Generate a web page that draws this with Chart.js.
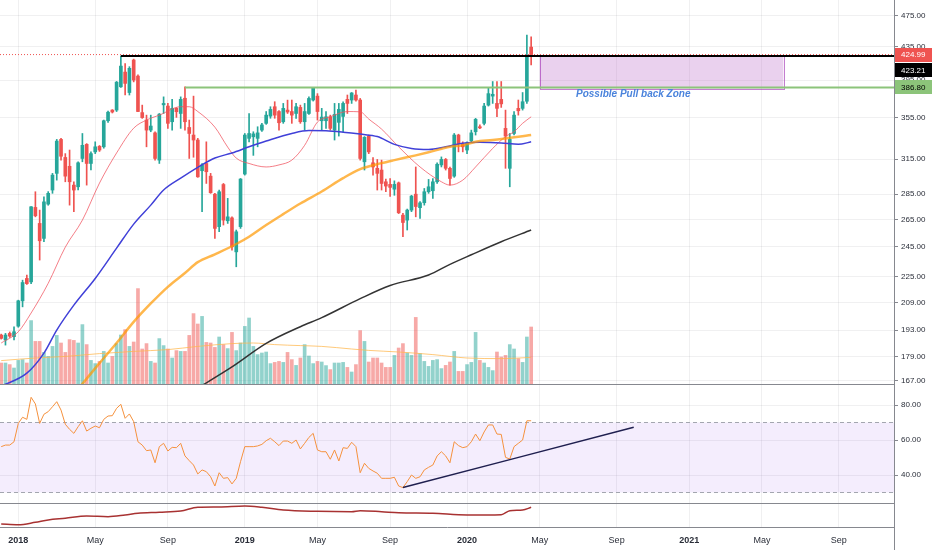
<!DOCTYPE html>
<html>
<head>
<meta charset="utf-8">
<script src="https://cdn.jsdelivr.net/npm/chart.js@4.4.1/dist/chart.umd.min.js"></script>
<style>
  html, body { margin: 0; padding: 0; background: #fff; }
  #wrap { position: relative; width: 932px; height: 550px; overflow: hidden; }
  canvas { position: absolute; left: 0; }
  .sep { position: absolute; left: 0; width: 894px; height: 1px; background: #86888f; }
  .edge { position: absolute; left: 894px; top: 0; width: 1px; height: 550px; background: #86888f; }
</style>
</head>
<body>
<div id="wrap">
  <canvas id="priceChart" width="932" height="384" style="top:0"></canvas>
  <canvas id="rsiChart" width="932" height="118" style="top:385px"></canvas>
  <canvas id="lowerChart" width="932" height="46" style="top:504px"></canvas>
  <div class="sep" style="top:384px"></div>
  <div class="sep" style="top:503px"></div>
  <div class="edge"></div>
</div>
<script>
// ---- data: weekly candles, week index 0 = first week of 2018 ----
const firstWeek = -4;
const opens = [
  190.3, 187.6, 191.2, 189.4, 195.2, 209.9, 223.8, 221.6, 274.3, 262.0,
  251.0, 276.9, 288.3, 302.4, 333.3, 316.5, 308.6, 292.4, 291.0, 315.6,
  328.6, 311.1, 321.6, 326.8, 326.3, 351.6, 362.5, 362.5, 387.5, 404.2,
  381.2, 418.4, 399.6, 359.9, 352.3, 342.3, 339.6, 314.1, 368.0, 366.7,
  350.6, 364.3, 359.0, 375.0, 344.9, 337.5, 332.7, 304.7, 311.1, 300.0,
  284.9, 259.6, 292.9, 264.0, 266.2, 241.5, 259.6, 301.8, 334.3, 335.8,
  334.3, 342.3, 349.0, 356.3, 366.0, 361.0, 350.6, 362.5, 361.0, 359.0,
  365.3, 350.6, 359.0, 373.1, 377.3, 351.6, 351.6, 355.6, 342.3, 350.0,
  356.0, 373.8, 373.1, 378.5, 373.1, 312.6, 336.5, 311.7, 306.8, 305.3,
  295.2, 293.0, 289.0, 294.3, 268.3, 264.5, 272.2, 284.9, 274.1, 278.0,
  286.9, 287.7, 295.2, 309.8, 314.7, 306.8, 300.0, 337.5, 328.6, 323.3,
  332.0, 340.7, 345.6, 349.0, 367.7, 377.3, 369.5, 373.8, 344.0, 306.8,
  339.0, 364.3, 364.3, 371.8, 434.2
];
const highs = [
  190.8, 191.2, 192.0, 194.8, 210.3, 222.7, 226.0, 275.0, 286.9, 272.2,
  282.8, 287.0, 302.4, 333.3, 334.3, 320.0, 323.3, 295.2, 312.6, 339.0,
  329.3, 321.6, 331.0, 327.5, 352.3, 361.5, 363.0, 393.5, 423.2, 414.3,
  410.5, 419.5, 401.0, 367.7, 357.3, 357.3, 340.5, 359.0, 376.5, 369.5,
  373.8, 365.0, 376.5, 387.5, 352.3, 377.3, 334.3, 311.1, 331.0, 302.4,
  285.6, 288.3, 293.8, 281.5, 267.0, 257.1, 298.0, 339.0, 359.0, 340.7,
  345.6, 349.0, 361.0, 366.0, 371.3, 362.0, 369.5, 373.0, 373.1, 369.5,
  367.7, 369.5, 376.5, 386.8, 380.0, 364.3, 361.0, 357.3, 369.5, 369.5,
  371.3, 378.5, 381.2, 384.0, 374.8, 336.0, 337.5, 316.5, 314.7, 314.1,
  297.5, 298.0, 296.0, 295.0, 269.6, 273.0, 284.0, 308.0, 279.0, 289.6,
  297.2, 298.0, 311.7, 317.0, 315.6, 308.0, 339.0, 338.3, 331.0, 331.0,
  342.3, 354.0, 347.5, 369.5, 385.8, 393.4, 393.4, 393.4, 362.5, 339.0,
  361.0, 373.1, 381.2, 449.4, 447.0
];
const lows = [
  188.1, 184.9, 189.0, 187.6, 194.6, 206.3, 220.0, 220.5, 267.0, 235.9,
  248.6, 276.0, 285.6, 296.6, 314.1, 295.2, 276.1, 270.9, 288.3, 312.6,
  292.4, 305.3, 320.0, 322.0, 325.0, 350.0, 359.5, 361.0, 386.9, 378.5,
  378.5, 393.0, 360.8, 354.0, 326.3, 340.7, 314.1, 311.1, 359.0, 344.0,
  342.3, 355.0, 344.0, 342.3, 315.6, 316.7, 299.0, 270.9, 293.8, 285.6,
  251.0, 255.8, 260.8, 262.0, 242.7, 231.4, 258.3, 300.9, 331.0, 318.4,
  326.3, 341.0, 348.0, 354.1, 354.1, 342.3, 349.0, 359.0, 349.0, 354.0,
  349.0, 342.3, 358.0, 372.0, 352.3, 342.3, 344.0, 342.3, 332.7, 336.5,
  340.7, 359.0, 369.5, 372.0, 314.1, 305.3, 320.0, 300.9, 288.3, 288.3,
  286.9, 283.0, 284.0, 269.5, 252.2, 257.1, 271.0, 267.0, 265.8, 276.1,
  285.6, 281.5, 293.8, 308.0, 305.3, 292.4, 299.0, 321.6, 321.6, 320.0,
  331.0, 337.5, 343.6, 347.4, 366.7, 369.5, 355.8, 365.3, 306.8, 291.0,
  337.5, 357.3, 362.5, 369.5, 412.5
];
const closes = [
  188.5, 190.3, 189.7, 192.1, 209.9, 221.2, 220.5, 274.8, 267.8, 249.3,
  278.7, 285.6, 300.9, 331.7, 317.6, 300.0, 295.2, 288.3, 311.7, 327.7,
  311.1, 320.0, 326.3, 323.3, 351.6, 360.3, 360.5, 392.7, 411.2, 391.3,
  408.6, 395.1, 361.0, 354.8, 342.3, 346.3, 315.6, 358.3, 369.5, 349.0,
  364.3, 360.8, 373.8, 350.6, 339.0, 332.7, 299.4, 309.8, 303.8, 286.1,
  258.3, 286.9, 264.5, 267.0, 245.0, 255.8, 297.5, 337.5, 339.0, 338.6,
  339.6, 347.4, 357.3, 363.2, 357.3, 349.6, 364.3, 360.5, 357.3, 366.0,
  350.6, 361.0, 374.8, 385.8, 361.0, 355.3, 355.6, 344.0, 358.0, 363.2,
  369.5, 369.5, 380.7, 373.1, 315.6, 335.3, 321.6, 308.0, 302.4, 293.8,
  291.6, 290.5, 293.0, 270.1, 262.7, 272.2, 283.3, 275.0, 277.9, 286.9,
  291.0, 295.2, 310.4, 314.7, 306.8, 298.0, 337.5, 329.3, 326.3, 330.0,
  339.6, 353.0, 344.5, 366.7, 380.0, 379.3, 364.3, 369.0, 336.5, 333.3,
  357.3, 361.8, 371.3, 422.96, 424.99
];
// volume, millions of shares
const volumes = [
  10.5, 10.5, 9.7, 8.0, 11.8, 12.2, 10.5, 31.7, 21.3, 21.3,
  15.8, 13.8, 18.8, 24.3, 20.5, 15.8, 22.2, 21.8, 20.5, 29.7,
  19.7, 11.8, 10.2, 11.3, 16.3, 10.5, 13.8, 20.2, 24.5, 27.2,
  18.8, 21.0, 47.7, 17.5, 20.2, 11.3, 10.5, 22.7, 19.2, 17.5,
  13.0, 16.7, 16.3, 16.3, 24.3, 35.2, 30.0, 33.8, 20.8, 20.5,
  18.3, 23.5, 19.7, 17.7, 25.8, 16.7, 20.5, 28.8, 33.0, 18.8,
  14.7, 15.5, 16.0, 10.2, 10.8, 11.3, 10.8, 15.8, 12.2, 9.3,
  13.0, 19.7, 14.0, 10.2, 11.3, 11.0, 9.2, 7.2, 10.5, 10.5,
  10.8, 8.3, 6.0, 9.7, 26.7, 21.3, 11.0, 13.0, 13.0, 10.5,
  8.3, 8.3, 14.3, 18.0, 20.2, 15.5, 14.3, 33.3, 15.2, 11.3,
  8.8, 11.8, 12.2, 7.7, 9.3, 11.0, 16.3, 6.3, 6.3, 9.7,
  10.8, 25.8, 11.8, 10.5, 8.3, 6.7, 16.0, 13.5, 14.3, 19.7,
  17.5, 12.7, 10.8, 23.5, 28.5
];
const rsiValues = [
  56.2, 57.1, 57.1, 59.0, 69.5, 73.0, 71.8, 84.4, 80.6, 69.5,
  74.7, 76.2, 79.0, 81.9, 77.1, 69.0, 66.1, 63.8, 67.6, 71.0,
  65.1, 66.7, 68.0, 67.0, 71.8, 73.7, 73.9, 78.1, 80.4, 72.4,
  74.9, 70.5, 59.0, 57.1, 53.9, 54.3, 47.0, 56.2, 58.1, 53.7,
  55.8, 55.6, 58.1, 50.9, 48.2, 45.7, 40.6, 42.9, 41.9, 39.0,
  33.7, 41.3, 38.1, 38.5, 34.9, 38.1, 47.6, 56.2, 56.2, 56.2,
  56.6, 57.5, 59.6, 61.0, 59.0, 56.8, 59.4, 59.4, 58.1, 60.0,
  54.9, 58.1, 61.5, 63.8, 54.3, 53.3, 53.3, 49.0, 54.3, 48.0,
  55.6, 55.2, 58.7, 56.2, 41.3, 46.7, 43.8, 42.3, 41.0, 38.1,
  38.1, 38.1, 38.7, 33.7, 32.8, 36.2, 40.0, 38.1, 39.0, 42.9,
  44.4, 45.7, 50.9, 53.3, 50.9, 47.0, 59.0, 56.8, 55.6, 56.2,
  59.0, 63.4, 59.6, 64.6, 68.6, 68.6, 63.4, 63.2, 50.1, 49.1,
  56.2, 58.1, 60.0, 71.0, 71.0
];

// moving averages at sample weeks
const maFastWeeks = [-4, 0, 3, 7, 11, 15, 19, 23, 27, 30, 33, 38, 40, 42, 46, 49, 51, 54, 58, 61, 64, 67, 70, 73, 77, 80, 82, 85, 89, 94, 99, 101, 104, 107, 111, 114, 116, 118, 120];
const maFastVals = [186, 192.1, 202.7, 220.7, 244.8, 264.5, 294.1, 320.6, 344.2, 352.3, 357.3, 366, 366, 361, 345.2, 326, 315.9, 311.1, 308, 309.8, 314.1, 327.7, 350.3, 355.6, 361, 360.7, 353.3, 343.3, 326.3, 308, 295.2, 292.4, 296.6, 308, 324.8, 336, 340.7, 349, 355.6];
const maMidWeeks = [-4, 2, 6, 9, 13, 18, 23, 27, 31, 34, 38, 42, 46, 50, 54, 58, 64, 68, 72, 76, 80, 84, 88, 92, 96, 100, 104, 108, 113, 117, 120];
const maMidVals = [164.4, 170.6, 180.7, 193, 207.3, 223.8, 244.1, 261.5, 276.1, 288.3, 298.3, 307.7, 316, 320.6, 326.3, 331.7, 339, 341.8, 341.6, 340.3, 338.4, 336, 328.6, 324.8, 323.9, 326.4, 329.7, 330.6, 330, 328.6, 331];
const maSlowWeeks = [14, 19, 23, 27, 31, 35, 39, 42, 46, 51, 54, 58, 62, 66, 71, 76, 80, 85, 88, 93, 96, 101, 104, 107, 111, 120];
const maSlowVals = [163, 175.6, 186, 197.6, 208.3, 218.5, 227.3, 234.5, 239.8, 247, 252.2, 260.8, 269.1, 277.4, 287.1, 298.3, 306.1, 311.4, 314.1, 318.4, 321.2, 326.3, 327.7, 331, 332.7, 337.5];
const maLongWeeks = [42, 50, 58, 66, 71, 80, 87, 96, 101, 106, 113, 120];
const maLongVals = [163.5, 173.7, 185.8, 194.9, 200, 211.2, 219.3, 226, 233, 239.5, 248.6, 257.1];
const volMaWeeks = [-4, 4, 11, 19, 27, 35, 42, 50, 55, 60, 66, 71, 78, 82, 89, 97, 105, 113, 120];
const volMaVals = [11.7, 13, 13.8, 15.2, 16.3, 17.2, 18.8, 20.2, 20.5, 19.7, 19.2, 18.8, 17.5, 16.8, 16, 14.7, 13, 12.7, 13.3];

// lower pane indicator
const lowerWeeks = [-4, 0, 4, 7, 11, 16, 21, 25, 28, 33, 38, 42, 47, 53, 57, 62, 70, 78, 80, 85, 89, 97, 105, 113, 115, 118, 120];
const lowerVals = [3, 2.3, 4.7, 7, 8.7, 11, 10.3, 12, 13.7, 14.7, 16, 19.7, 20, 21, 19.7, 17, 15.7, 15.3, 16.3, 15.3, 14.3, 13.7, 12, 12.3, 16.3, 17, 19.7];

// drawings
const resistanceLevel = 423.21, resistanceStart = 24;
const supportLevel = 386.80, supportStart = 39;
const zoneWeeks = [122, 179];
const zonePrices = [385.5, 423.21];
const zoneText = 'Possible Pull back Zone';
const zoneTextAt = [130.5, 379.5];
const rsiTrendWeeks = [90, 144];
const rsiTrendVals = [32.8, 67.3];
const rsiBands = [70, 30];

// axes
const tickWeeks = [0, 18, 35, 53, 70, 87, 105, 122, 140, 157, 174, 192];
const tickLabels = ['2018', 'May', 'Sep', '2019', 'May', 'Sep', '2020', 'May', 'Sep', '2021', 'May', 'Sep'];
const priceTicks = [167, 179, 193, 209, 225, 245, 265, 285, 315, 355, 395, 435, 475];
const rsiTicks = [40, 60, 80];

// ---- view settings ----
const xMin = -4.28, xMax = 204.9;
const FONT = '"Liberation Sans", Arial, sans-serif';
const UP = '#26a69a', DOWN = '#ef5350';
const UP_VOL = 'rgba(38,166,154,0.5)', DOWN_VOL = 'rgba(239,83,80,0.5)';
const GRID = 'rgba(42,46,57,0.07)';
const AXIS = '#86888f';
const TEXT = '#2a2e39';
const SUPPORT = '#8cc47a';

Chart.defaults.font.family = FONT;
Chart.defaults.animation = false;
Chart.defaults.elements.point.radius = 0;
Chart.defaults.plugins.legend.display = false;
Chart.defaults.plugins.tooltip.enabled = false;

const weeks = opens.map((_, k) => firstWeek + k);
const isUp = closes.map((c, k) => c >= opens[k]);
const pts = (xs, ys) => xs.map((x, k) => ({ x: x, y: ys[k] }));

// keep the plot area flush with the canvas edges
function noPadding(s) { s.paddingTop = 0; s.paddingBottom = 0; s.paddingLeft = 0; s.paddingRight = 0; }

function weekAxis(showLabels) {
  return {
    type: 'linear', min: xMin, max: xMax, offset: false,
    grid: { color: GRID, drawTicks: false, offset: false },
    border: { display: showLabels, color: AXIS },
    ticks: {
      display: showLabels, autoSkip: false, maxRotation: 0, padding: 8, color: TEXT,
      font: c => ({ family: FONT, size: 9, weight: (c.tick && /^\d{4}$/.test(tickLabels[tickWeeks.indexOf(c.tick.value)])) ? 'bold' : 'normal' }),
      callback: v => { const k = tickWeeks.indexOf(v); return k >= 0 ? tickLabels[k] : ''; }
    },
    afterBuildTicks: s => { s.ticks = tickWeeks.map(v => ({ value: v })); },
    afterFit: s => { s.height = showLabels ? 23 : 0; noPadding(s); }
  };
}

function valueAxis(extra, tickValues) {
  return Object.assign({
    position: 'right',
    grid: { color: GRID, tickLength: 4, tickColor: AXIS },
    border: { display: false },
    ticks: { autoSkip: false, padding: 3, color: TEXT, font: { family: FONT, size: 8 }, callback: v => Number(v).toFixed(2) },
    afterBuildTicks: s => { s.ticks = tickValues.map(v => ({ value: v })); },
    afterFit: s => { s.width = 38; noPadding(s); }
  }, extra);
}

function line(data, color, width, extra) {
  return Object.assign({ type: 'line', data: data, borderColor: color, borderWidth: width, fill: false, cubicInterpolationMode: 'monotone' }, extra || {});
}

// ---- overlay drawings on the price pane ----
const overlayPlugin = {
  id: 'overlay',
  beforeDatasetsDraw(chart) {
    const { ctx, scales: { x, y } } = chart;
    const l = x.getPixelForValue(zoneWeeks[0]), r = x.getPixelForValue(zoneWeeks[1]);
    const t = y.getPixelForValue(zonePrices[1]), b = y.getPixelForValue(zonePrices[0]);
    ctx.save();
    ctx.fillStyle = 'rgba(186,104,200,0.3)';
    ctx.fillRect(l, t, r - l, b - t);
    ctx.strokeStyle = 'rgba(156,39,176,0.6)';
    ctx.lineWidth = 1;
    ctx.strokeRect(Math.round(l) + 0.5, Math.round(t) + 0.5, Math.round(r - l), Math.round(b - t));
    ctx.restore();
  },
  afterDatasetsDraw(chart) {
    const { ctx, scales: { x, y } } = chart;
    ctx.save();
    ctx.font = 'italic bold 10px ' + FONT;
    ctx.fillStyle = '#4a83dc';
    ctx.textBaseline = 'middle';
    ctx.fillText(zoneText, x.getPixelForValue(zoneTextAt[0]), y.getPixelForValue(zoneTextAt[1]));
    ctx.restore();
  },
  afterDraw(chart) {
    const { ctx, chartArea, scales: { y } } = chart;
    const lastClose = closes[closes.length - 1];
    const tag = (yc, text, bg, fg) => {
      ctx.fillStyle = bg;
      ctx.fillRect(chartArea.right + 1, Math.round(yc) - 7, 37, 14);
      ctx.fillStyle = fg;
      ctx.fillText(text, chartArea.right + 7, yc + 0.5);
    };
    ctx.save();
    ctx.font = '8px ' + FONT;
    ctx.textBaseline = 'middle';
    const yLast = y.getPixelForValue(lastClose);
    tag(yLast, lastClose.toFixed(2), DOWN, '#fff');
    tag(Math.round(yLast) + 15, resistanceLevel.toFixed(2), '#000', '#fff');
    tag(y.getPixelForValue(supportLevel), supportLevel.toFixed(2), SUPPORT, '#000');
    ctx.restore();
  }
};

new Chart(document.getElementById('priceChart'), {
  type: 'bar',
  data: {
    datasets: [
      { type: 'bar', yAxisID: 'yVol', data: pts(weeks, volumes), backgroundColor: isUp.map(u => u ? UP_VOL : DOWN_VOL), barThickness: 3, grouped: false, order: 10 },
      line(pts(volMaWeeks, volMaVals), 'rgba(255,183,77,0.75)', 1, { yAxisID: 'yVol', order: 9 }),
      { type: 'bar', yAxisID: 'y', data: weeks.map((w, k) => ({ x: w, y: [lows[k], highs[k]] })), backgroundColor: isUp.map(u => u ? UP : DOWN), barThickness: 1, grouped: false, order: 4 },
      { type: 'bar', yAxisID: 'y', data: weeks.map((w, k) => ({ x: w, y: [opens[k], closes[k]] })), backgroundColor: isUp.map(u => u ? UP : DOWN), barThickness: 3, minBarLength: 1, grouped: false, order: 3 },
      line(pts(maLongWeeks, maLongVals), '#333333', 1.5, { yAxisID: 'y', order: 2 }),
      line(pts(maSlowWeeks, maSlowVals), 'rgba(255,152,0,0.7)', 2.5, { yAxisID: 'y', order: 2 }),
      line(pts(maMidWeeks, maMidVals), '#4040d8', 1.5, { yAxisID: 'y', order: 2 }),
      line(pts(maFastWeeks, maFastVals), 'rgba(240,83,95,0.75)', 1, { yAxisID: 'y', order: 2 }),
      line(pts([xMin, xMax], [closes[closes.length - 1], closes[closes.length - 1]]), DOWN, 1, { yAxisID: 'y', borderDash: [1, 2], order: 1 }),
      line(pts([resistanceStart, xMax], [resistanceLevel, resistanceLevel]), '#000', 2, { yAxisID: 'y', order: 0 }),
      line(pts([supportStart, xMax], [supportLevel, supportLevel]), SUPPORT, 2, { yAxisID: 'y', order: 0 })
    ]
  },
  options: {
    responsive: false,
    layout: { padding: 0 },
    scales: {
      x: weekAxis(false),
      y: valueAxis({ type: 'logarithmic', min: 165.4, max: 496.9 }, priceTicks),
      yVol: { type: 'linear', display: false, min: 0, max: 192 }
    }
  },
  plugins: [overlayPlugin]
});

new Chart(document.getElementById('rsiChart'), {
  type: 'line',
  data: {
    datasets: [
      line(pts([xMin, xMax], [rsiBands[0], rsiBands[0]]), '#a3a6af', 1, { borderDash: [4, 3], order: 5 }),
      line(pts([xMin, xMax], [rsiBands[1], rsiBands[1]]), '#a3a6af', 1, { borderDash: [4, 3], fill: '-1', backgroundColor: 'rgba(149,76,233,0.1)', order: 5 }),
      line(pts(weeks, rsiValues), '#f5913d', 1, { cubicInterpolationMode: 'default', tension: 0, order: 1 }),
      line(pts(rsiTrendWeeks, rsiTrendVals), '#1f1f4f', 1.5, { order: 0 })
    ]
  },
  options: {
    responsive: false,
    layout: { padding: 0 },
    scales: {
      x: weekAxis(false),
      y: valueAxis({ type: 'linear', min: 24, max: 91.43 }, rsiTicks)
    }
  }
});

new Chart(document.getElementById('lowerChart'), {
  type: 'line',
  data: {
    datasets: [ line(pts(lowerWeeks, lowerVals), '#a83232', 1.5) ]
  },
  options: {
    responsive: false,
    layout: { padding: 0 },
    scales: {
      x: weekAxis(true),
      y: { position: 'right', min: 0, max: 23, ticks: { display: false }, grid: { display: false }, border: { display: false }, afterFit: s => { s.width = 38; noPadding(s); } }
    }
  }
});
</script>
</body>
</html>
